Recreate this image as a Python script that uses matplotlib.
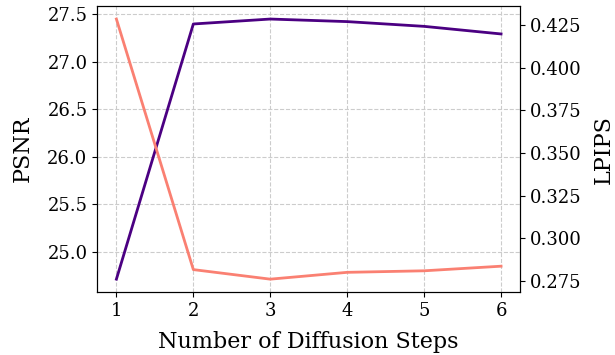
import matplotlib
matplotlib.use('Agg')
import matplotlib.pyplot as plt

steps = [1, 2, 3, 4, 5, 6]
psnr = [24.71, 27.395, 27.447, 27.42, 27.37, 27.29]
lpips = [0.4285, 0.2816, 0.2760, 0.2800, 0.2809, 0.2836]

plt.rcParams['font.family'] = 'DejaVu Serif'
plt.rcParams['font.size'] = 13

fig, ax1 = plt.subplots(figsize=(6.15, 3.55), dpi=100)
fig.subplots_adjust(left=0.158, right=0.846, top=0.983, bottom=0.177)

ax1.plot(steps, psnr, color='#4B0082', linewidth=2)
ax1.set_xlabel('Number of Diffusion Steps', fontsize=16, labelpad=8)
ax1.set_ylabel('PSNR', fontsize=16, labelpad=10)
ax1.set_xticks(steps)
ax1.grid(True, linestyle='--', color='#cccccc', linewidth=0.8)

ax2 = ax1.twinx()
ax2.plot(steps, lpips, color='#FA8072', linewidth=2)
ax2.set_ylabel('LPIPS', fontsize=16, labelpad=8)

fig.savefig('out.png', dpi=100)
